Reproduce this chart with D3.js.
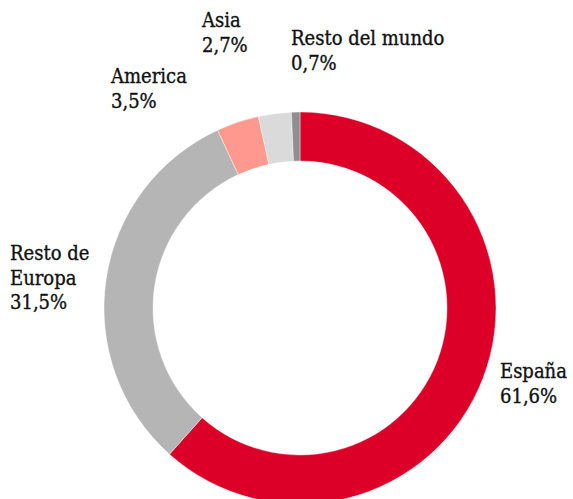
<!DOCTYPE html>
<html lang="es">
<head>
<meta charset="UTF-8">
<title>Distribución por región</title>
<script src="https://d3js.org/d3.v7.min.js"></script>
<style>
  body { margin: 0; background: #fff; }
  .lbl { font-family: "DejaVu Serif Condensed", "Liberation Serif", serif; font-size: 20px; fill: #111; stroke: #111; stroke-width: 0.35px; }
</style>
</head>
<body>
<div id="chart"></div>
<script>
const regions = ["España", "Resto de Europa", "America", "Asia", "Resto del mundo"];
const shares = [61.6, 31.5, 3.5, 2.7, 0.7];
const shareLabels = ["61,6%", "31,5%", "3,5%", "2,7%", "0,7%"];
const colors = ["#dc0028", "#b5b5b5", "#ff998f", "#dadada", "#8f8f8f"];

const width = 573, height = 499;
const cx = 300, cy = 308, outerR = 196, innerR = 147;

const svg = d3.select("#chart").append("svg")
    .attr("width", width)
    .attr("height", height);

const pie = d3.pie().sort(null).value(d => d.v);
const arc = d3.arc().innerRadius(innerR).outerRadius(outerR);

const data = regions.map((r, i) => ({ name: r, v: shares[i], txt: shareLabels[i], c: colors[i] }));

svg.append("g")
    .attr("transform", `translate(${cx},${cy})`)
  .selectAll("path")
  .data(pie(data))
  .join("path")
    .attr("d", arc)
    .attr("fill", d => d.data.c)
    .attr("stroke", "#fff")
    .attr("stroke-width", 0.4);

// label spots (text lines, left aligned)
const labelPos = {
  "España": { x: 500, y: 378, lines: ["España"] },
  "Resto de Europa": { x: 10, y: 260, lines: ["Resto de", "Europa"] },
  "America": { x: 111, y: 83, lines: ["America"] },
  "Asia": { x: 202, y: 27, lines: ["Asia"] },
  "Resto del mundo": { x: 291, y: 45, lines: ["Resto del mundo"] }
};

data.forEach(d => {
  const p = labelPos[d.name];
  const t = svg.append("text").attr("class", "lbl").attr("x", p.x).attr("y", p.y);
  p.lines.concat([d.txt]).forEach((line, i) => {
    t.append("tspan").attr("x", p.x).attr("dy", i === 0 ? 0 : 24.5).text(line);
  });
});
</script>
</body>
</html>
